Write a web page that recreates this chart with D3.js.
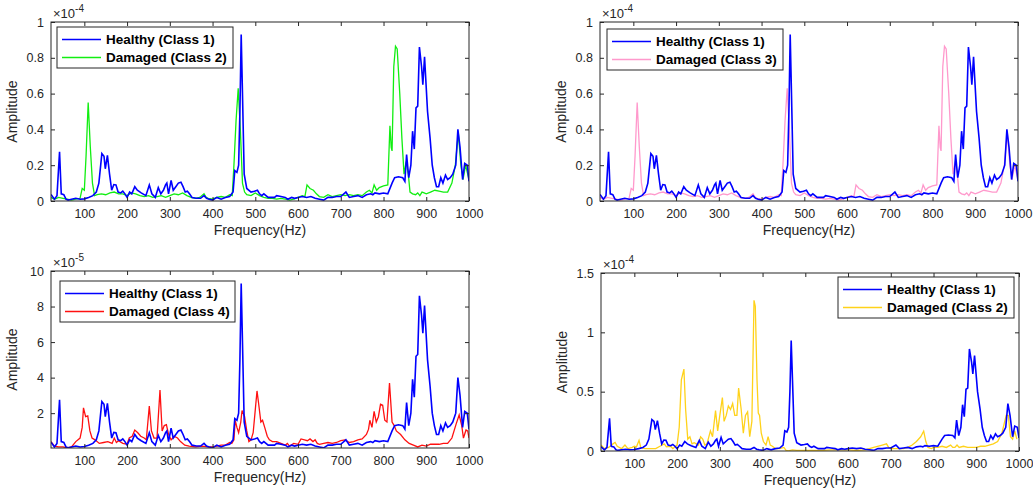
<!DOCTYPE html>
<html>
<head>
<meta charset="utf-8">
<script src="https://cdn.jsdelivr.net/npm/d3@7"></script>
<style>
  body { margin: 0; background: #fff; }
  svg text { font-family: "Liberation Sans", Arial, sans-serif; }
</style>
</head>
<body>
<svg></svg>
<script>
// amplitudes are in units of 1e-5
const healthyFreq = [22,30,36,42,46,52,57,62,70,80,90,100,110,120,128,134,141,146,149,154,159,164,169,174,179,185,190,195,200,206,211,218,224,233,244,252,258,266,273,279,285,290,293,297,303,308,314,320,326,331,336,341,346,352,362,372,380,386,392,400,410,420,430,440,448,452,457,461,464,467,470,474,480,490,498,505,510,515,520,530,545,550,560,570,576,585,592,600,610,620,630,640,650,660,670,680,690,700,712,720,730,740,750,760,770,775,780,790,800,810,820,826,835,845,850,854,859,864,868,872,876,880,884,889,892,896,903,909,914,919,924,929,934,939,945,950,956,962,969,974,979,985,990,996,1000];
const healthyAmp = [0.37,0.1,0.3,2.75,0.4,0.35,0.1,0.05,0.1,0.15,0.1,0.12,0.2,0.3,0.5,1.0,2.65,2.5,1.8,2.55,1.5,0.6,0.92,0.9,0.5,0.45,0.55,0.4,0.2,0.5,0.4,0.8,0.6,0.45,0.3,0.9,0.4,0.2,0.75,0.4,0.6,0.9,1.0,0.4,1.15,0.6,0.8,1.0,1.05,0.8,0.5,0.55,0.4,0.2,0.15,0.15,0.3,0.15,0.1,0.05,0.2,0.1,0.2,0.25,0.5,1.7,1.6,2.0,5.0,9.3,6.0,1.5,0.7,0.5,0.55,0.6,0.4,0.3,0.4,0.2,0.2,0.3,0.25,0.2,0.1,0.2,0.15,0.2,0.25,0.2,0.25,0.15,0.1,0.05,0.2,0.2,0.25,0.25,0.5,0.2,0.25,0.3,0.2,0.35,0.4,0.35,0.45,0.4,0.45,0.4,1.0,1.3,1.35,1.3,1.1,2.6,1.3,2.0,3.9,2.9,5.2,5.3,8.6,7.5,6.5,8.05,5.0,3.5,2.0,1.3,0.8,0.8,1.3,1.0,1.45,1.2,1.3,1.5,2.0,4.0,3.0,1.2,2.1,2.0,1.1];

// Damaged (Class 2) in the first panel, same trace drawn as Class 3 in the second
const damagedAFreq = [22,30,40,50,60,70,80,90,95,100,104,109,114,119,124,130,140,150,160,170,180,190,200,210,220,230,240,250,260,270,280,290,300,310,320,330,340,350,360,370,380,385,390,400,410,420,430,440,446,450,455,460,465,470,475,480,490,500,510,520,530,540,550,560,570,580,590,600,610,616,621,628,636,643,650,660,670,680,690,700,710,720,730,740,750,760,767,773,778,784,790,800,810,815,818,820,824,828,832,838,843,848,853,858,862,868,875,880,885,890,895,900,910,920,930,940,950,960,968,975,981,986,992,1000];
const damagedAAmp = [0.2,0.1,0.2,0.15,0.1,0.05,0.1,0.15,0.7,0.6,2.5,5.5,3.0,1.0,0.3,0.35,0.4,0.35,0.45,0.5,0.4,0.4,0.3,0.45,0.4,0.3,0.25,0.3,0.2,0.25,0.3,0.2,0.3,0.4,0.35,0.45,0.3,0.2,0.15,0.2,0.4,0.2,0.15,0.1,0.2,0.25,0.2,0.35,0.3,2.0,4.5,6.3,4.0,1.0,0.5,0.35,0.3,0.45,0.3,0.2,0.15,0.15,0.1,0.15,0.1,0.05,0.1,0.2,0.3,0.25,0.9,0.7,0.6,0.4,0.25,0.2,0.35,0.25,0.3,0.35,0.3,0.35,0.3,0.35,0.3,0.5,0.6,0.45,0.9,0.6,0.75,0.85,0.9,4.2,3.0,2.8,7.5,8.65,8.5,6.0,3.5,1.5,2.2,1.5,0.5,0.4,0.35,0.45,0.3,0.5,0.45,0.4,0.5,0.6,0.55,0.5,0.5,1.0,2.0,3.8,2.0,1.2,2.0,1.2];

// Damaged (Class 4)
const damagedBFreq = [22,30,40,50,60,70,80,90,95,98,103,108,113,118,125,135,145,155,165,170,175,180,190,200,205,212,218,225,232,240,245,252,257,263,270,277,282,287,292,297,303,310,318,325,335,345,360,375,390,400,410,420,430,440,445,450,453,457,461,466,469,475,480,485,490,495,500,504,508,513,517,522,528,533,540,550,560,570,575,580,590,600,607,615,622,628,635,640,645,650,660,670,680,690,700,710,720,730,740,750,760,765,768,773,778,783,788,793,798,803,808,814,820,825,830,840,850,860,870,880,890,900,910,920,930,940,950,960,970,977,983,987,993,997,1000];
const damagedBAmp = [0.4,0.15,0.1,0.1,0.05,0.1,0.4,0.6,1.2,2.3,1.8,1.85,1.0,0.6,0.5,0.3,0.35,0.4,0.3,0.6,0.35,0.45,0.3,0.25,0.6,0.7,1.05,0.9,0.7,0.6,0.5,2.4,1.0,0.6,0.6,3.3,1.0,1.3,1.35,0.8,0.5,0.7,0.6,0.4,0.2,0.15,0.1,0.15,0.1,0.1,0.15,0.2,0.2,0.35,0.3,0.5,1.6,1.2,0.9,1.5,2.15,1.8,1.0,0.4,0.5,0.9,2.2,3.25,2.5,1.5,1.6,1.2,0.7,0.5,0.4,0.4,0.3,0.2,0.3,0.15,0.3,0.25,0.55,0.5,0.45,0.55,0.4,0.5,0.3,0.25,0.3,0.35,0.3,0.35,0.45,0.5,0.35,0.4,0.5,0.55,0.8,1.1,1.6,1.2,2.1,1.5,1.8,2.5,2.45,1.6,1.5,3.7,1.5,1.3,1.0,0.8,0.5,0.3,0.2,0.1,0.2,0.15,0.25,0.25,0.25,0.3,0.3,0.6,1.4,1.9,1.3,0.6,1.05,1.0,0.6];

// Damaged (Class 2) in the fourth panel
const damagedCFreq = [22,30,40,50,55,60,70,78,85,95,100,105,111,115,125,135,150,160,170,175,185,190,200,205,210,216,220,225,230,235,240,245,250,255,260,265,270,278,283,290,295,300,306,310,315,320,325,330,335,340,344,350,355,360,365,370,375,380,383,387,390,393,397,402,408,413,418,423,430,440,450,455,460,470,480,500,510,520,540,560,580,600,620,640,660,680,690,695,700,710,720,730,740,750,760,770,777,782,787,795,800,810,820,830,840,845,850,855,860,870,880,890,900,910,920,930,940,950,960,970,975,980,985,990,995,1000];
const damagedCAmp = [0.5,0.2,0.3,0.6,0.73,0.4,0.2,0.5,0.2,0.3,0.4,0.35,0.9,0.3,0.2,0.2,0.2,0.4,0.6,0.35,0.4,0.2,0.5,2.0,6.0,6.9,3.5,1.0,1.2,0.6,0.7,0.6,0.5,1.2,1.0,0.5,0.6,1.7,1.2,3.4,1.7,3.0,4.5,2.5,3.0,3.8,3.5,4.0,3.0,3.0,5.3,3.5,1.5,3.0,3.3,1.2,2.5,12.7,12.2,6.0,3.2,3.0,1.5,0.8,0.5,1.2,0.5,0.4,0.2,0.2,0.3,0.05,0.0,0.1,0.05,0.05,0.05,0.05,0.05,0.1,0.1,0.1,0.05,0.1,0.3,0.5,0.6,0.3,0.2,0.2,0.2,0.2,0.3,0.5,0.8,1.2,1.68,0.8,0.3,0.2,0.3,0.3,0.4,0.3,0.5,0.3,0.3,0.5,0.3,0.4,0.3,0.3,0.3,0.4,0.4,0.5,0.6,0.8,1.5,3.0,3.0,1.2,1.0,1.7,1.0];

const xTicks = [100,200,300,400,500,600,700,800,900,1000];

const svg = d3.select("svg").attr("width", 1033).attr("height", 493);

const panels = [
  {left: 51, right: 469, top: 22, bottom: 201, yDomain: [0, 10], yTicks: [0,2,4,6,8,10], div: 10, exp: "-4",
   other: {f: damagedAFreq, a: damagedAAmp, color: "#11ee11", label: "Damaged (Class 2)"},
   legend: {x: 57, y: 27, w: 176}},
  {left: 600, right: 1018, top: 22, bottom: 201, yDomain: [0, 10], yTicks: [0,2,4,6,8,10], div: 10, exp: "-4",
   other: {f: damagedAFreq, a: damagedAAmp, color: "#ff99cc", label: "Damaged (Class 3)"},
   legend: {x: 607, y: 29, w: 176}},
  {left: 51, right: 469, top: 271, bottom: 448, yDomain: [0.04, 10], yTicks: [2,4,6,8,10], div: 1, exp: "-5",
   other: {f: damagedBFreq, a: damagedBAmp, color: "#ff1010", label: "Damaged (Class 4)"},
   legend: {x: 60, y: 281, w: 175}},
  {left: 601, right: 1019, top: 273, bottom: 451, yDomain: [0, 15], yTicks: [0,5,10,15], div: 10, exp: "-4",
   other: {f: damagedCFreq, a: damagedCAmp, color: "#ffd21a", label: "Damaged (Class 2)"},
   legend: {x: 838, y: 277, w: 176}}
];

const axisColor = "#262626";

panels.forEach(p => {
  const x = d3.scaleLinear().domain([22, 1000]).range([p.left, p.right]);
  const y = d3.scaleLinear().domain(p.yDomain).range([p.bottom, p.top]);
  const g = svg.append("g");

  // clip to the axes box
  const clipId = "clip" + p.left + p.top;
  g.append("clipPath").attr("id", clipId)
    .append("rect").attr("x", p.left).attr("y", p.top)
    .attr("width", p.right - p.left).attr("height", p.bottom - p.top);

  const line = (fs) => d3.line().x((d, i) => x(fs[i])).y(d => y(d));

  //series
  g.append("path").datum(p.other.a)
    .attr("clip-path", `url(#${clipId})`)
    .attr("d", line(p.other.f))
    .attr("fill", "none").attr("stroke", p.other.color).attr("stroke-width", 1.3);
  g.append("path").datum(healthyAmp)
    .attr("clip-path", `url(#${clipId})`)
    .attr("d", line(healthyFreq))
    .attr("fill", "none").attr("stroke", "#0000ff").attr("stroke-width", 1.6);

  //axes, ticks inside
  const tickFont = g => g.selectAll("text").attr("font-size", 12.5).attr("fill", axisColor);
  g.append("g").attr("transform", `translate(0,${p.bottom})`)
    .call(d3.axisBottom(x).tickValues(xTicks).tickSizeInner(-4).tickSizeOuter(0).tickPadding(8).tickFormat(d3.format("d")))
    .call(tickFont);
  g.append("g").attr("transform", `translate(0,${p.top})`)
    .call(d3.axisTop(x).tickValues(xTicks).tickSizeInner(-4).tickSizeOuter(0).tickFormat(""));
  g.append("g").attr("transform", `translate(${p.left},0)`)
    .call(d3.axisLeft(y).tickValues(p.yTicks).tickSizeInner(-4).tickSizeOuter(0).tickPadding(7).tickFormat(d => String(+(d / p.div).toFixed(2))))
    .call(tickFont);
  g.append("g").attr("transform", `translate(${p.right},0)`)
    .call(d3.axisRight(y).tickValues(p.yTicks).tickSizeInner(-4).tickSizeOuter(0).tickFormat(""));
  g.selectAll(".domain").remove();
  g.selectAll(".tick line").attr("stroke", axisColor);

  g.append("rect").attr("x", p.left).attr("y", p.top)
    .attr("width", p.right - p.left).attr("height", p.bottom - p.top)
    .attr("fill", "none").attr("stroke", axisColor).attr("stroke-width", 1);

  //exponent label
  const ex = g.append("text").attr("x", p.left + 2).attr("y", p.top - 4)
    .attr("font-size", 13).attr("fill", axisColor).text("\u00d710");
  ex.append("tspan").attr("dy", -6).attr("font-size", 10).text(p.exp);

  //axis labels
  g.append("text").attr("x", (p.left + p.right) / 2).attr("y", p.bottom + 34)
    .attr("text-anchor", "middle").attr("font-size", 14).attr("fill", axisColor)
    .text("Frequency(Hz)");
  g.append("text")
    .attr("transform", `translate(${p.left - 34},${(p.top + p.bottom) / 2}) rotate(-90)`)
    .attr("text-anchor", "middle").attr("font-size", 14).attr("fill", axisColor)
    .text("Amplitude");

  //legend
  const L = p.legend;
  g.append("rect").attr("x", L.x).attr("y", L.y).attr("width", L.w).attr("height", 41)
    .attr("fill", "#fff").attr("stroke", axisColor).attr("stroke-width", 1);
  const items = [
    {label: "Healthy (Class 1)", color: "#0000ff", w: 1.6},
    {label: p.other.label, color: p.other.color, w: 1.3}
  ];
  items.forEach((it, i) => {
    const cy = L.y + 12.5 + i * 18;
    g.append("line").attr("x1", L.x + 5).attr("x2", L.x + 44)
      .attr("y1", cy).attr("y2", cy).attr("stroke", it.color).attr("stroke-width", it.w);
    g.append("text").attr("x", L.x + 49).attr("y", cy + 4.8)
      .attr("font-size", 13.5).attr("font-weight", "bold").attr("fill", "#000")
      .text(it.label);
  });
});
</script>
</body>
</html>
